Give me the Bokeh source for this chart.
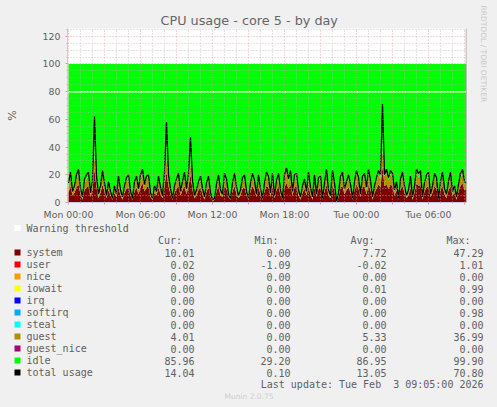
from bokeh.plotting import figure
from bokeh.layouts import column
from bokeh.core.properties import value
from bokeh.models import Range1d, FixedTicker, Span, Title, GlobalInlineStyleSheet
from bokeh.embed import file_html
from bokeh.resources import INLINE

TITLE = "CPU usage - core 5 - by day"
total = [14,22,8,12,20,24,10,4,17,20, 22,7,16,62,19,6,12,23,14,5, 15,8,3,12,6,19,9,4,12,18,
         20,8,3,15,19,10,20,24,13,19, 20,7,3,12,8,19,11,5,22,58, 20,10,3,12,17,21,8,15,22,10,
         21,47,16,5,9,15,19,10,4,14, 19,7,2,3,13,20,9,6,21,17, 6,3,14,21,11,5,9,18,20,8,
         3,14,21,16,6,20,10,3,14,22, 19,7,21,5,16,21,9,3,20,25, 17,23,8,20,21,9,4,12,17,8,
         22,11,4,20,6,18,19,3,14,24, 9,5,23,14,1,7,19,22,10,15, 20,13,3,15,23,18,6,19,21,11,
         24,16,4,12,18,23,20,71,20,24, 18,23,21,9,15,3,17,22,12,5, 9,19,4,12,24,21,23,4,14,20,
         22,6,12,21,18,3,15,22,10,6, 15,22,8,12,4,13,21,24,15,14]
system = [7,12,5,7,11,13,6,2,9,11, 12,4,9,24,11,3,7,13,8,3, 9,5,2,7,4,11,5,2,7,10,
          11,5,2,8,11,6,11,14,8,11, 12,4,2,7,5,11,6,3,12,22, 12,6,2,7,10,12,5,9,12,6,
          12,20,9,3,5,9,11,6,2,8, 11,4,1,2,8,12,5,4,12,10, 4,2,8,12,6,3,5,10,11,5,
          2,8,12,9,4,11,6,2,8,12, 11,4,12,3,9,12,5,2,11,14, 10,13,5,11,12,5,2,7,10,5,
          12,6,2,11,4,10,11,2,8,13, 5,3,13,8,0,4,11,12,6,9, 11,7,2,9,13,10,4,11,12,6,
          13,9,2,7,10,13,11,26,12,13, 10,13,12,5,9,2,10,12,7,3, 5,11,2,7,14,12,13,2,8,11,
          12,4,7,12,10,2,9,12,6,3, 9,12,5,7,2,8,12,14,9,10]
guest = [4,6,2,3,6,7,3,1,5,6, 7,2,5,10,5,1,3,7,4,1, 4,2,1,3,1,5,3,1,3,6,
         6,2,1,5,6,3,6,7,4,6, 7,2,1,3,2,6,4,1,7,9, 5,3,1,4,5,7,2,4,7,3,
         6,8,5,1,3,4,6,3,1,4, 6,2,1,1,3,6,3,1,6,5, 1,1,4,6,3,1,3,6,6,2,
         1,4,6,5,1,6,3,1,4,7, 6,2,6,1,5,6,3,1,6,8, 5,7,2,6,6,3,1,4,5,2,
         7,3,1,6,1,6,6,1,4,8, 3,1,7,4,0,2,6,7,3,5, 6,4,1,4,7,6,1,6,6,3,
         8,5,1,4,6,7,6,12,7,8, 6,7,6,3,4,1,5,7,4,1, 3,6,1,4,7,6,7,1,4,6,
         7,1,4,6,6,1,4,7,3,2, 4,7,2,3,1,4,6,7,4,4]
hours = [i / 6 for i in range(len(total))]
warning = 80
full_scale = 100

x_tick_labels = {0: "Mon 00:00", 6: "Mon 06:00", 12: "Mon 12:00", 18: "Mon 18:00", 24: "Tue 00:00", 30: "Tue 06:00"}
y_ticks = [0, 20, 40, 60, 80, 100, 120]

names = ["system", "user", "nice", "iowait", "irq", "softirq", "steal", "guest", "guest_nice", "idle", "total usage"]
colors = ["#7f0000", "#ff0000", "#ff9900", "#ffff00", "#0000ff", "#00aaff", "#00ffff", "#b09000", "#aa0077", "#00ff00", "#000000"]
cur = ["10.01", "0.02", "0.00", "0.00", "0.00", "0.00", "0.00", "4.01", "0.00", "85.96", "14.04"]
mins = ["0.00", "-1.09", "0.00", "0.00", "0.00", "0.00", "0.00", "0.00", "0.00", "29.20", "0.10"]
avgs = ["7.72", "-0.02", "0.00", "0.01", "0.00", "0.00", "0.00", "5.33", "0.00", "86.95", "13.05"]
maxs = ["47.29", "1.01", "0.00", "0.99", "0.00", "0.98", "0.00", "36.99", "0.00", "99.90", "70.80"]

BG = "#f0f0f0"
TICK = "#606060"
W, H = 497, 407
SPLIT = 222

p = figure(width=W, height=SPLIT, output_backend="svg", toolbar_location=None,
           x_range=Range1d(-1/12, 33.1667), y_range=Range1d(0, 125.6),
           min_border_left=67, min_border_right=31, min_border_top=28, min_border_bottom=SPLIT - 202,
           background_fill_color="white", border_fill_color=BG, outline_line_color=None, frame_align=False)
p.stylesheets = [GlobalInlineStyleSheet(css=f"body{{background:{BG};}}")]

p.title.text = TITLE
p.title.text_font = "DejaVu Sans"
p.title.text_font_size = "12.8px"
p.title.text_font_style = "normal"
p.title.text_color = "#666666"
p.title.align = "left"
p.title.offset = 93
p.title.standoff = 2

p.add_layout(Title(text="RRDTOOL / TOBI OETIKER", text_font="DejaVu Sans", text_font_size="7.5px",
                   text_font_style="normal", text_color="#c8c8c8", align="left", offset=-23, standoff=20,
                   vertical_align="top"), "right")

low = [0] * len(system)
top1 = [a + b for a, b in zip(system, guest)]
p.varea(hours, low, system, fill_color=colors[0])
p.varea(hours, system, top1, fill_color=colors[7])
p.varea(hours, top1, [full_scale] * len(top1), fill_color=colors[9])
p.line(hours, total, line_color="black", line_width=1.3)
p.add_layout(Span(location=warning, dimension="width", line_color="white", line_width=1.5))

grid_pink = "#e08c8c"
grid_gray = "#b4b4b4"
for g, major, minor in ((p.xgrid[0], list(range(0, 34, 3)), [h for h in range(0, 34) if h % 3]),
                        (p.ygrid[0], y_ticks, [v for v in range(0, 126, 5) if v % 20])):
    g.ticker = FixedTicker(ticks=major, minor_ticks=minor)
    g.level = "overlay"
    g.grid_line_color = grid_pink
    g.grid_line_alpha = 0.7
    g.grid_line_dash = [1, 2]
    g.minor_grid_line_color = grid_gray
    g.minor_grid_line_alpha = 0.7
    g.minor_grid_line_dash = [1, 2]

xa, ya = p.xaxis[0], p.yaxis[0]
xa.ticker = FixedTicker(ticks=list(range(0, 34, 3)), minor_ticks=list(range(0, 34)))
xa.major_label_overrides = {h: x_tick_labels.get(h, "") for h in range(0, 34, 3)}
ya.ticker = FixedTicker(ticks=y_ticks, minor_ticks=list(range(0, 126, 5)))
ya.axis_label = "%"
ya.axis_label_text_font = "DejaVu Sans"
ya.axis_label_text_font_size = "11px"
ya.axis_label_text_font_style = "normal"
ya.axis_label_text_color = TICK
ya.axis_label_standoff = 21
for a in (xa, ya):
    a.axis_line_color = "#c8c8f0"
    a.major_tick_line_color = "#e08c8c"
    a.minor_tick_line_color = "#c0c0c0"
    a.major_tick_in = 0
    a.major_tick_out = 2
    a.minor_tick_in = 0
    a.minor_tick_out = 1
    a.major_label_text_color = TICK
    a.major_label_text_font = "DejaVu Sans"
    a.major_label_text_font_size = "9.4px"
xa.major_label_standoff = 4
ya.major_label_standoff = 5
p.add_layout(Span(location=33.1667, dimension="height", line_color="#999999", line_width=1.5))

# legend panel: its data coordinates are the page's pixels
q = figure(width=W, height=H - SPLIT, output_backend="svg", toolbar_location=None,
           x_range=Range1d(0, W), y_range=Range1d(H, SPLIT),
           min_border=0, background_fill_color=BG, border_fill_color=BG, outline_line_color=None, frame_align=False)
q.axis.visible = False
q.grid.visible = False

rows = [252 + 12 * i for i in range(len(names))]
FONT = "DejaVu Sans Mono"
def texts(xs, ys, ts, align="left", size="10px", color=TICK, font=FONT):
    q.text(xs, ys, text=ts, text_font=value(font), text_font_size=value(size), text_color=color,
           text_align=align, text_baseline="middle")

q.rect([17] * (len(rows) + 1), [227.5] + rows, width=6, height=6, fill_color=["#ffffff"] + colors, line_color=None)
texts([26], [227.5], ["Warning threshold"])
texts([181.5, 278, 374, 470], [240] * 4, ["Cur:", "Min:", "Avg:", "Max:"], "right")
texts([26] * len(rows), rows, names)
texts([194] * len(rows), rows, cur, "right")
texts([290] * len(rows), rows, mins, "right")
texts([386] * len(rows), rows, avgs, "right")
texts([483] * len(rows), rows, maxs, "right")
texts([483], [383.7], ["Last update: Tue Feb \u00a03 09:05:00 2026"], "right")
texts([248.5], [396], ["Munin 2.0.75"], "center", "7.5px", "#cfcfcf", "DejaVu Sans")

page = column(p, q, spacing=0)
open("out.html", "w").write(file_html(page, INLINE))
